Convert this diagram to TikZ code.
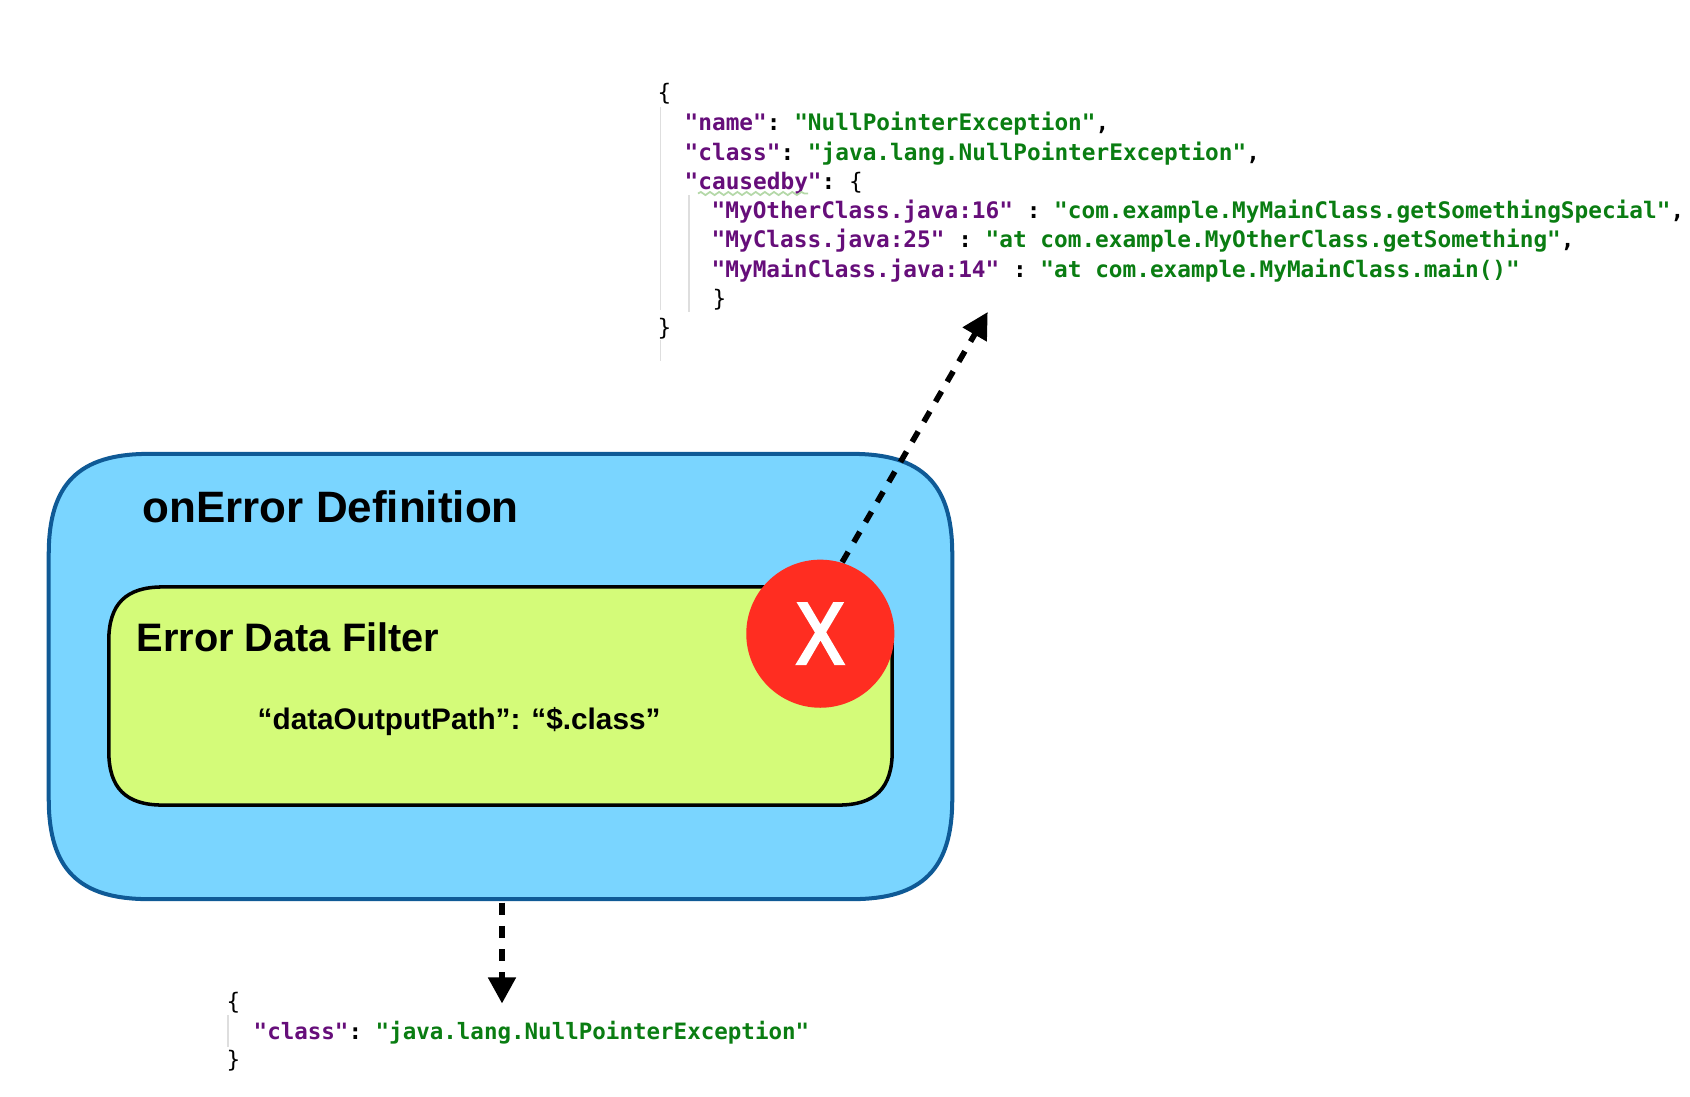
\documentclass[tikz,border=0pt]{standalone}
\usepackage{fontspec}
\setmainfont{Liberation Sans}
\setmonofont{DejaVu Sans Mono}
\newfontfamily\markfont[FakeBold=4]{Liberation Sans}
\usetikzlibrary{arrows.meta,decorations.pathmorphing,calc}
\definecolor{outerfill}{HTML}{7AD5FF}
\definecolor{outerline}{HTML}{0F5A96}
\definecolor{innerfill}{HTML}{D4FB79}
\definecolor{errred}{HTML}{FF2D21}
\definecolor{jkey}{HTML}{660E7A}
\definecolor{jval}{HTML}{0A7D12}
\definecolor{guide}{HTML}{DEDEDE}
\definecolor{squiggle}{HTML}{B4D8A8}
\newcommand{\jk}[1]{\textcolor{jkey}{#1}}
\newcommand{\jv}[1]{\textcolor{jval}{#1}}
% soft-cornered outline round a node: node, corner extent, control offset, style
\newcommand{\softbox}[4]{\path[#4]
  ($(#1.north west)+(#2,0)$) -- ($(#1.north east)+(-#2,0)$)
  .. controls ($(#1.north east)+(-#3,0)$) and ($(#1.north east)+(0,#3)$) .. ($(#1.north east)+(0,#2)$)
  -- ($(#1.south east)+(0,-#2)$)
  .. controls ($(#1.south east)+(0,-#3)$) and ($(#1.south east)+(-#3,0)$) .. ($(#1.south east)+(-#2,0)$)
  -- ($(#1.south west)+(#2,0)$)
  .. controls ($(#1.south west)+(#3,0)$) and ($(#1.south west)+(0,-#3)$) .. ($(#1.south west)+(0,-#2)$)
  -- ($(#1.north west)+(0,#2)$)
  .. controls ($(#1.north west)+(0,#3)$) and ($(#1.north west)+(#3,0)$) .. cycle;}
\begin{document}
\begin{tikzpicture}[x=0.01cm,y=-0.01cm,
  region/.style={inner sep=0pt,outer sep=0pt},
  code/.style={anchor=base west,inner sep=0pt,font=\fontsize{6.47pt}{7pt}\ttfamily\bfseries},
  smallcode/.style={code,font=\fontsize{6.4pt}{7pt}\ttfamily\bfseries},
  brace/.style={anchor=base west,inner sep=0pt,font=\fontsize{6.47pt}{7pt}\ttfamily},
  heading/.style={anchor=base west,inner sep=0pt},
  flow/.style={line width=1.6pt,dash pattern=on 3.4pt off 3.2pt,-{Triangle[length=7.4pt,width=7.6pt,sep=0pt]}},
  guideline/.style={guide,line width=0.5pt}]
\useasboundingbox (0,0) rectangle (1690,1096);
\node[region,minimum width=9.03cm,minimum height=4.45cm] (outer) at (500.5,676.5) {};
\softbox{outer}{100}{30}{draw=outerline,fill=outerfill,line width=1.14pt}
\node[region,minimum width=7.83cm,minimum height=2.18cm] (inner) at (500.5,696) {};
\softbox{inner}{54}{17}{draw=black,fill=innerfill,line width=1.0pt}
\node[circle,fill=errred,minimum size=1.48cm,inner sep=0pt,text=white,font=\fontsize{24.6pt}{26pt}\markfont] (err) at (820.3,633.7) {\scalebox{0.83}[1]{X}};
\node[heading,font=\fontsize{12.5pt}{14pt}\bfseries] (title) at (142,522.5) {onError Definition};
\node[heading,font=\fontsize{11.3pt}{13pt}\bfseries] (filter) at (136,651) {Error Data Filter};
\node[heading,font=\fontsize{8.46pt}{10pt}\bfseries] (path) at (257,729) {“dataOutputPath”: “\$.class”};
% large JSON
\draw[guideline] (660.5,107) -- (660.5,310) (660.5,340) -- (660.5,361);
\draw[guideline] (689,195) -- (689,312);
\node[brace] (a0) at (657,100) {\{};
\node[code] (a1) at (684,130.5) {\jk{"name"}: \jv{"NullPointerException"},};
\node[code] (a2) at (684,160) {\jk{"class"}: \jv{"java.lang.NullPointerException"},};
\node[code] (a3) at (684,189) {\jk{"causedby"}: {\mdseries\{}};
\node[code] (a4) at (711,218) {\jk{"MyOtherClass.java:16"} : \jv{"com.example.MyMainClass.getSomethingSpecial"},};
\node[code] (a5) at (711,247.5) {\jk{"MyClass.java:25"} : \jv{"at com.example.MyOtherClass.getSomething"},};
\node[code] (a6) at (711,277) {\jk{"MyMainClass.java:14"} : \jv{"at com.example.MyMainClass.main()"}};
\node[brace] (a7) at (712,306) {\}};
\node[brace] (a8) at (657,335) {\}};
\draw[squiggle,line width=0.5pt,decorate,decoration={snake,amplitude=0.45pt,segment length=2.6pt}] (a3.base west) ++(14,4.5) -- ++(110,0);
% small JSON
\draw[guideline] (228,1015) -- (228,1047);
\node[brace] (b0) at (226,1009) {\{};
\node[smallcode] (b1) at (253,1039) {\jk{"class"}: \jv{"java.lang.NullPointerException"}};
\node[brace] (b2) at (226,1067) {\}};
% connectors
\coordinate (topend) at (987.7,312);
\coordinate (botend) at (502,1003.5);
\draw[flow] (err.73) -- (topend);
\draw[flow] (outer.south) ++(1.5,3.5) -- (botend);
\end{tikzpicture}
\end{document}
